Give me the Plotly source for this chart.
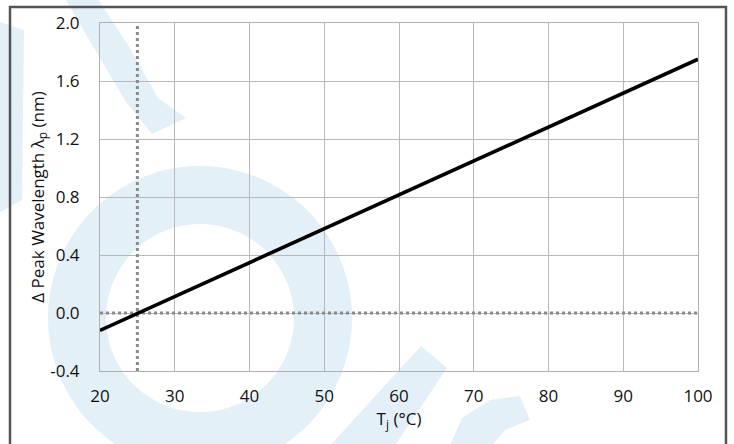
import numpy as np
import plotly.graph_objects as go

# ---- data ----
tj_c = [20, 100]                 # junction temperature (°C)
delta_peak_nm = [-0.12, 1.75]    # Δ peak wavelength (nm)
ref_tj = 25                      # reference temperature (dotted vertical)
ref_delta = 0.0                  # reference shift (dotted horizontal)
x_ticks = [20, 30, 40, 50, 60, 70, 80, 90, 100]
y_ticks = [-0.4, 0.0, 0.4, 0.8, 1.2, 1.6, 2.0]

W, H = 734, 444
ML, MR, MT, MB = 100, 36, 23, 73
PW, PH = W - ML - MR, H - MT - MB


def px(xp, yp):
    return (xp - ML) / PW, (H - MB - yp) / PH


def path_from(points_list):
    parts = []
    for pts in points_list:
        conv = [px(a, b) for a, b in pts]
        parts.append("M " + " L ".join(f"{a:.4f},{b:.4f}" for a, b in conv) + " Z")
    return " ".join(parts)


WM = "rgb(228,240,248)"
shapes = []

# watermark: ring
cx, cy, ro, ri = 200, 318, 152, 94
t = np.linspace(0, 2 * np.pi, 120)
outer = [(cx + ro * np.cos(a), cy + ro * np.sin(a)) for a in t]
inner = [(cx + ri * np.cos(a), cy + ri * np.sin(a)) for a in t[::-1]]
shapes.append(dict(type="path", xref="paper", yref="paper", layer="below",
                   path=path_from([outer, inner]), fillcolor=WM, line=dict(width=0)))
# watermark: top-left curved band
band = [(92, -10), (128, 45), (158, 98), (186, 118), (152, 134),
        (126, 102), (94, 48), (60, -10)]
shapes.append(dict(type="path", xref="paper", yref="paper", layer="below",
                   path=path_from([band]), fillcolor=WM, line=dict(width=0)))
# watermark: left strip
strip = [(-5, 20), (24, 30), (22, 200), (-5, 215)]
shapes.append(dict(type="path", xref="paper", yref="paper", layer="below",
                   path=path_from([strip]), fillcolor=WM, line=dict(width=0)))
# watermark: bottom diagonal band
diag = [(326, 450), (392, 450), (447, 368), (421, 346)]
shapes.append(dict(type="path", xref="paper", yref="paper", layer="below",
                   path=path_from([diag]), fillcolor=WM, line=dict(width=0)))
# watermark: bottom-right arc piece
arc = [(448, 450), (462, 418), (490, 400), (520, 396), (530, 420), (505, 430),
       (488, 450)]
shapes.append(dict(type="path", xref="paper", yref="paper", layer="below",
                   path=path_from([arc]), fillcolor=WM, line=dict(width=0)))

# outer frame (three visible sides)
fx0, fy_top = px(10, 7)
fx1, fy_bot = px(726, 470)
shapes.append(dict(type="path", xref="paper", yref="paper", layer="above",
                   path=f"M {fx0:.4f},{fy_bot:.4f} L {fx0:.4f},{fy_top:.4f} "
                        f"L {fx1:.4f},{fy_top:.4f} L {fx1:.4f},{fy_bot:.4f}",
                   line=dict(color="#555555", width=2.5)))

fig = go.Figure()
fig.add_trace(go.Scatter(x=[ref_tj, ref_tj], y=[y_ticks[0], y_ticks[-1]], mode="lines",
                         line=dict(color="#8a8a8a", width=3, dash="dot"),
                         showlegend=False, hoverinfo="skip"))
fig.add_trace(go.Scatter(x=[x_ticks[0], x_ticks[-1]], y=[ref_delta, ref_delta], mode="lines",
                         line=dict(color="#8a8a8a", width=3, dash="dot"),
                         showlegend=False, hoverinfo="skip"))
fig.add_trace(go.Scatter(x=tj_c, y=delta_peak_nm, mode="lines",
                         line=dict(color="black", width=3.6),
                         showlegend=False))

font = dict(family="Open Sans, Lato, sans-serif", size=17, color="#111111")
fig.update_layout(
    width=W, height=H,
    margin=dict(l=ML, r=MR, t=MT, b=MB, pad=0, autoexpand=False),
    paper_bgcolor="white", plot_bgcolor="rgba(0,0,0,0)",
    font=font,
    shapes=shapes,
    showlegend=False,
)
fig.update_xaxes(range=[20, 100], tickvals=x_ticks, ticktext=[str(v) for v in x_ticks],
                 showgrid=True, gridcolor="#b8b8b8", gridwidth=1,
                 showline=True, linecolor="#b0b0b0", linewidth=1, mirror=True,
                 zeroline=False, ticks="", ticklabelstandoff=10, automargin=False,
                 title=dict(text="T<sub>j</sub> (°C)", standoff=6, font=font),
                 tickfont=font)
fig.update_yaxes(range=[-0.4, 2.0], tickvals=y_ticks, ticktext=[f"{v:.1f}" for v in y_ticks],
                 showgrid=True, gridcolor="#b8b8b8", gridwidth=1,
                 showline=True, linecolor="#b0b0b0", linewidth=1, mirror=True,
                 zeroline=False, ticks="", ticklabelstandoff=16, automargin=False,
                 title=dict(text="Δ Peak Wavelength λ<sub>p</sub> (nm)", standoff=1, font=font),
                 tickfont=font)

fig.write_html("out.html", config={"displayModeBar": False},
               post_script="document.body.style.margin='0px';document.body.style.overflow='hidden';")
